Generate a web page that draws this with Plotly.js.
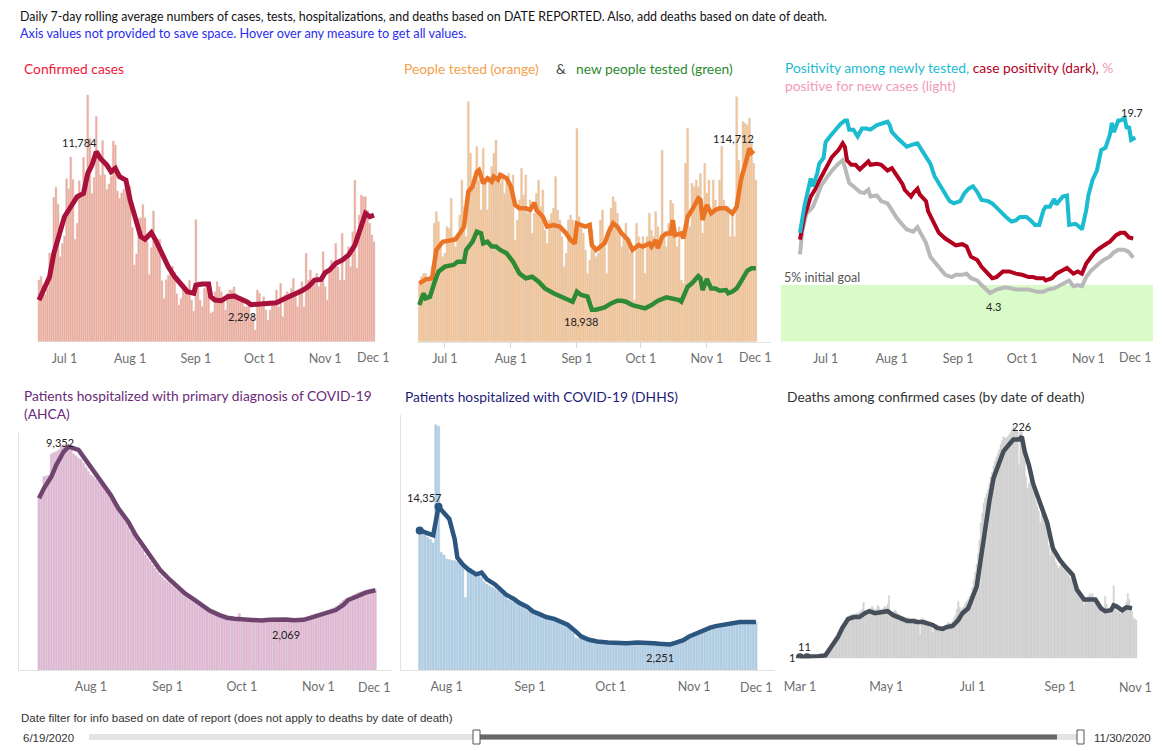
<!DOCTYPE html>
<html><head><meta charset="utf-8">
<script src="https://cdn.plot.ly/plotly-3.0.1.min.js"></script>
<style>html,body{margin:0;padding:0;background:#fff;overflow:hidden}#chart{width:1162px;height:751px}</style>
</head><body><div id="chart"></div>
<script>
// ---------------- DATA ----------------
// Panel 1: confirmed cases, daily bars from 2020-06-19
const casesStart = '2020-06-19';
const casesDaily = [3822,4049,3494,2926,3289,5508,5004,8942,9585,8530,5266,6093,
 6563,10109,9488,11458,10059,6336,7347,9989,8935,11433,10360,15300,12624,9194,10181,13965,11466,10328,12478,10347,9440,9785,10249,12444,12199,9344,8892,9230,9446,9956,9007,
 9642,7104,4752,5446,7650,7686,8502,7686,6229,4155,5831,8109,6236,6148,6352,3779,2678,3838,4115,4555,4684,4311,2974,2258,2673,3220,3269,3197,3815,2583,1885,
 7569,
 3720,2580,2170,3300,3620,3000,1760,1860,3100,3720,3410,3100,2580,1960,3000,3200,3200,3410,3000,2580,2790,2580,2170,2170,2480,1340,1760,720,3200,3000,2170,2790,1960,1340,1960,2380,2480,3200,2170,3620,1550,2900,3100,3000,3300,3930,3000,2170,3300,3720,2170,5480,3820,4440,3820,3620,4240,3410,3820,5580,3410,2580,4440,5060,4650,6100,4650,3820,6720,3820,5060,5890,4650,6820,10020,4550,7850,9100,8990,8990,8160,7340,6610,6200];
const casesAvgDates = ['06-19','06-21','06-24','06-26','06-28','07-01','07-04','07-07','07-10','07-12','07-14','07-16','07-18','07-21','07-23','07-25','07-27','07-30','08-01','08-04','08-06','08-08','08-11','08-13','08-16','08-19','08-22','08-25','08-28','08-31','09-01','09-04','09-07','09-08','09-10','09-13','09-16','09-19','09-22','09-25','09-27','10-01','10-05','10-07','10-09','10-12','10-15','10-18','10-21','10-24','10-27','10-30','11-01','11-03','11-06','11-09','11-12','11-15','11-17','11-20','11-22','11-24'];
const casesAvg = [2580,3200,4030,5480,6510,7750,8370,8990,9200,10440,10960,11784,11370,10960,10540,10750,10230,10020,8780,7230,6510,6350,6760,6300,5480,4650,4030,3620,3100,3000,3510,3580,3580,2790,2580,2540,2790,2830,2690,2480,2298,2340,2380,2380,2420,2620,2790,3000,3160,3410,3820,3860,4280,4440,4860,5060,5370,5990,6820,7960,7750,7850];

// Panel 2: people tested, daily bars from 2020-06-19
const testedStart = '2020-06-19';
const testedDaily = [34600,38500,40500,40500,36600,38500,44500,70200,77100,71200,
 56300,50400,52400,68200,67200,85000,62300,56300,62300,75100,
 95900,80100,62300,142300,111700,95900,91900,115700,95900,78100,
 114700,95900,78100,97900,103800,111700,119600,95900,93900,99800,
 88000,95900,99800,90000,98900,60300,72200,84000,102800,87000,
 98900,76100,84000,64300,76100,88000,95900,80100,90000,66200,
 58300,72200,76100,79100,97900,78100,72200,62300,44500,52400,
 72200,75100,72200,60300,126500,74100,70200,64300,54400,40500,
 48400,66200,56300,50400,52400,72200,78100,56300,40500,68200,
 79100,86000,83000,76100,68200,56300,64300,70200,60300,52400,
 56300,24700,70200,62300,56300,62300,40500,62300,76100,66200,
 62300,77100,68200,56300,113700,65200,56300,70200,84000,82000,
 66200,56300,68200,36600,34600,105800,126500,68200,93900,91900,
 95900,91900,99800,64300,105800,88000,95900,76100,95900,84000,
 79100,95900,115700,84000,79100,80100,62300,78100,62300,145300,
 107700,95900,130500,129500,128500,132500,117600,105800,95900];
const testedAvgDates = ['06-19','06-22','06-25','06-27','06-30','07-03','07-06','07-08','07-10','07-12','07-14','07-16','07-17','07-19','07-21','07-23','07-24','07-26','07-27','07-30','08-01','08-03','08-05','08-08','08-10','08-12','08-13','08-16','08-18','08-21','08-24','08-27','08-29','08-31','09-01','09-03','09-05','09-07','09-08','09-10','09-11','09-14','09-16','09-18','09-20','09-22','09-25','09-27','09-30','10-02','10-05','10-06','10-08','10-09','10-11','10-13','10-15','10-16','10-17','10-20','10-21','10-23','10-25','10-28','10-29','10-30','11-01','11-03','11-05','11-07','11-10','11-11','11-13','11-15','11-17','11-20','11-21','11-22','11-23'];
const testedAvg = [34600,36970,37560,54400,59300,60300,60700,64200,68200,89000,92000,100800,101800,93900,96900,94900,97900,95900,98900,96900,92000,81100,79100,79100,78100,82500,78100,74100,68200,69200,68200,64200,60300,58300,70200,69200,68200,69200,57300,54400,55400,58300,65200,70200,68200,64200,60300,54400,57300,56400,58300,56400,60300,55400,62300,64200,64200,72100,63200,64200,61300,74100,78100,85000,84000,72100,81100,76100,78100,79100,79100,78100,76100,80100,95900,109700,114712,112100,113300];
const newTestedAvgDates = ['06-19','06-21','06-22','06-24','06-26','06-28','07-01','07-05','07-07','07-10','07-11','07-14','07-16','07-18','07-19','07-21','07-23','07-25','07-27','07-30','08-02','08-05','08-08','08-11','08-14','08-17','08-21','08-24','08-27','08-30','09-01','09-03','09-06','09-08','09-10','09-14','09-17','09-20','09-22','09-24','09-27','09-30','10-03','10-06','10-09','10-13','10-16','10-19','10-20','10-23','10-25','10-28','10-29','10-30','11-01','11-03','11-05','11-07','11-10','11-11','11-13','11-15','11-17','11-20','11-22','11-24'];
const newTestedAvg = [21700,28700,25700,26700,34600,41500,44500,45500,47400,47400,54400,59300,65200,64200,58300,59300,56400,56400,54400,52400,47400,40500,37600,38500,35600,31600,28700,27100,25700,23700,29700,27700,26700,18938,19000,20400,22700,24300,24300,23700,21700,20800,19800,21700,24300,26300,25700,24700,23700,32600,34600,38900,37600,30600,37200,31600,31600,30200,30600,28700,29700,31600,35600,42100,43500,43500];

// Panel 3: positivity (%)
const goalPct = 5;
const posNewDates = ['06-19','06-21','06-24','06-25','06-27','06-28','06-30','07-01','07-03','07-06','07-08','07-10','07-11','07-12','07-14','07-16','07-18','07-20','07-22','07-25','07-27','07-30','07-31','08-01','08-04','08-06','08-08','08-11','08-13','08-15','08-17','08-19','08-21','08-23','08-26','08-28','08-30','09-02','09-04','09-06','09-08','09-10','09-12','09-15','09-17','09-19','09-22','09-24','09-26','09-28','09-30','10-03','10-05','10-07','10-09','10-11','10-12','10-14','10-16','10-17','10-20','10-22','10-23','10-26','10-28','10-29','10-31','11-01','11-03','11-05','11-07','11-09','11-11','11-12','11-13','11-15','11-16','11-18','11-19','11-20','11-21','11-23'];
const posNew = [9.6,11.9,14.4,13.7,14.8,15.7,16.2,17.6,18.1,18.8,19.2,19.5,19.5,18.7,18.7,18.1,18.8,18.8,18.7,19.1,19.2,19.4,19.1,18.5,17.9,17.5,17.2,17.4,17.5,16.9,16.3,15.7,14.6,14.0,13.1,12.4,12.2,12.4,13.1,13.5,13.7,13.2,12.5,12.4,12.2,11.8,11.3,10.9,10.6,10.7,11.0,11.0,10.7,10.3,10.3,11.6,11.9,11.9,12.6,12.1,12.8,12.9,10.3,10.4,10.1,9.9,11.6,12.9,14.3,15.1,16.9,17.1,18.2,19.3,18.5,19.5,19.5,19.7,18.8,19.0,17.8,18.0];
const posCaseDates = ['06-19','06-21','06-24','06-26','06-28','06-30','07-02','07-04','07-07','07-09','07-10','07-11','07-13','07-15','07-17','07-19','07-21','07-22','07-25','07-27','07-30','08-01','08-03','08-06','08-07','08-10','08-11','08-13','08-14','08-17','08-18','08-21','08-23','08-26','08-29','08-31','09-03','09-05','09-07','09-10','09-12','09-15','09-17','09-19','09-22','09-25','09-28','10-01','10-04','10-06','10-08','10-11','10-12','10-15','10-17','10-20','10-22','10-25','10-27','10-29','10-31','11-02','11-04','11-06','11-08','11-10','11-11','11-14','11-16','11-18','11-20','11-22'];
const posCase = [9.0,11.0,12.8,13.4,14.2,14.9,15.6,16.3,16.9,17.5,17.2,16.0,15.6,15.6,15.2,15.6,15.9,15.6,15.7,15.6,15.1,15.3,14.7,13.9,13.4,12.8,13.1,13.5,13.0,12.4,11.5,10.4,9.6,9.1,8.7,8.5,8.6,8.4,7.5,7.2,6.6,6.0,5.6,5.7,6.2,6.2,6.0,5.9,5.7,5.7,5.6,5.6,5.4,5.6,6.0,6.3,6.5,6.0,6.2,6.0,6.9,7.4,7.9,8.2,8.5,8.7,8.8,9.4,9.6,9.6,9.2,9.1];
const posNewCasesDates = ['06-19','06-20','06-22','06-25','06-27','06-29','07-02','07-04','07-07','07-09','07-10','07-12','07-14','07-17','07-19','07-21','07-22','07-25','07-27','07-30','08-01','08-03','08-06','08-08','08-11','08-13','08-15','08-17','08-19','08-22','08-24','08-26','08-29','08-31','09-03','09-05','09-07','09-10','09-12','09-14','09-16','09-19','09-21','09-23','09-26','09-28','10-01','10-04','10-06','10-08','10-11','10-13','10-16','10-18','10-20','10-23','10-25','10-27','10-29','10-31','11-02','11-04','11-06','11-08','11-11','11-13','11-15','11-18','11-20','11-22'];
const posNewCases = [7.7,9.7,11.3,11.9,12.8,13.8,14.6,15.1,15.7,16.0,15.4,14.0,13.7,13.2,13.1,13.4,12.8,12.9,12.4,12.2,11.6,11.0,10.3,9.9,9.7,10.1,9.4,8.7,7.5,6.8,6.3,5.9,5.7,5.9,5.9,6.0,5.6,5.4,5.0,4.7,4.3,4.6,4.7,4.8,4.7,4.6,4.6,4.6,4.5,4.4,4.4,4.6,4.7,4.9,5.1,5.4,4.9,5.0,4.9,5.7,6.2,6.6,6.9,7.2,7.5,7.9,8.1,8.1,7.9,7.4];

// Panel 4: AHCA hospitalizations, daily bars from 2020-07-11
const ahcaStart = '2020-07-11';
const ahcaDaily = [7195,7400,8100,8130,8170,9050,9110,9150,9220,9400,
 9430,9360,9290,9220,9050,8970,8870,8830,8660,8490,
 8310,8170,8100,7990,7890,7800,7680,7570,7330,7190,
 7050,6870,6730,6570,6400,6220,6010,5800,5700,5520,
 5310,5170,5030,4820,4680,4540,4400,4260,4120,3980,
 3880,3770,3700,3630,3520,3420,3350,3260,3170,3070,
 3000,2930,2860,2790,2720,2650,2600,2540,2490,2430,
 2370,2330,2290,2250,2220,2190,2180,2170,2150,2150,
 2210,2370,2180,2140,2110,2100,2080,2080,2070,2070,
 2080,2100,2110,2110,2110,2110,2100,2100,2080,2070,
 2050,2040,2010,2000,2000,2030,2070,2120,2180,2220,
 2260,2300,2350,2370,2400,2430,2470,2510,2560,2600,
 2650,2710,2820,2930,2990,3030,3070,3130,3190,3240,
 3270,3300,3320,3350,3370,3380,3380];
const ahcaAvgDates = ['07-11','07-13','07-16','07-18','07-21','07-23','07-27','07-30','08-02','08-06','08-09','08-12','08-16','08-19','08-23','08-26','08-29','09-02','09-05','09-08','09-12','09-15','09-18','09-22','09-25','09-28','10-02','10-05','10-09','10-12','10-15','10-19','10-22','10-24','10-26','10-29','11-01','11-05','11-08','11-11','11-13','11-17','11-20','11-24'];
const ahcaAvg = [7195,7610,8100,8590,9150,9352,9220,8800,8310,7820,7330,6780,6220,5660,5100,4610,4190,3770,3460,3210,2930,2720,2490,2300,2190,2150,2120,2080,2070,2100,2120,2110,2080,2069,2100,2190,2300,2400,2510,2720,2930,3100,3240,3340];

// Panel 5: DHHS hospitalizations, daily bars from 2020-07-22
const dhhsStart = '2020-07-22';
const dhhsDaily = [12180,12070,11890,11680,11480,11180,21560,21420,10350,10120,
 9760,9710,9620,9620,9530,9410,9320,6370,9120,8940,
 8730,8580,8350,8140,7760,7550,7400,7290,7170,6990,
 6810,6610,6460,6170,6080,6020,5930,5810,5630,5400,
 5250,5190,5100,4990,4900,4810,4660,4540,4450,4400,
 4310,4220,4130,4010,3920,3860,3810,3270,2830,2770,
 2740,2680,2630,2570,2510,2450,2420,2390,2390,2360,
 2360,2330,2330,2330,2330,2330,2360,2390,2390,2420,
 2450,2450,2450,2480,2450,2420,2390,2360,2330,2270,
 2210,2150,2180,2240,2330,2420,2510,2630,2740,2860,
 3040,3100,3160,3270,3510,3570,3630,3690,3720,3780,
 3840,3890,3950,4010,4070,4130,4160,4190,4220,4220,
 4250,4250,4250,4250,4250,4220];
const dhhsAvgDates = ['07-22','07-24','07-27','07-29','07-31','08-02','08-04','08-05','08-07','08-09','08-12','08-14','08-16','08-19','08-21','08-23','08-26','08-28','08-31','09-02','09-05','09-07','09-10','09-12','09-15','09-18','09-20','09-23','09-26','09-30','10-03','10-07','10-11','10-14','10-17','10-19','10-21','10-23','10-25','10-28','10-30','11-02','11-04','11-07','11-09','11-12','11-14','11-16','11-18','11-21','11-24'];
const dhhsAvg = [12270,12130,11840,14357,13870,13280,11510,9880,9290,8850,8410,8560,7970,7520,7080,6640,6250,5900,5550,5160,4870,4660,4490,4280,3980,3390,2950,2660,2510,2420,2360,2360,2420,2420,2360,2300,2270,2251,2390,2630,2920,3220,3510,3720,3860,4010,4100,4220,4220,4220,4220];

// Panel 6: deaths by date of death, daily bars from 2020-03-01
const deathsStart = '2020-03-01';
const deathsDaily = [1,0,0,1,1,0,1,1,2,1,
 2,1,3,2,3,4,5,5,6,8,
 10,12,15,17,19,21,24,27,30,32,
 34,36,38,42,43,44,44,45,44,45,
 46,46,47,48,50,57,49,48,49,50,
 51,53,51,49,50,54,52,50,49,51,
 53,52,55,64,48,46,47,49,48,46,
 45,44,43,43,42,41,42,41,40,39,
 40,41,40,39,38,24,40,41,39,39,
 38,37,37,36,26,33,34,35,33,33,
 32,31,32,32,33,37,36,36,38,41,
 44,50,58,52,49,51,53,56,58,60,
 63,66,72,80,88,96,107,120,138,148,
 158,163,168,172,178,185,190,196,201,205,
 209,213,218,222,226,225,224,226,228,230,
 233,236,234,233,231,197,232,230,215,202,
 185,173,178,185,182,179,170,160,155,150,
 138,147,155,148,141,128,115,105,110,114,
 104,98,95,92,94,99,97,94,92,87,
 85,82,80,78,75,73,70,66,65,63,
 60,54,58,60,63,66,64,66,62,57,
 57,54,49,51,52,51,63,55,49,48,
 46,50,74,52,49,47,50,46,48,53,
 53,57,66,60,51,48,41,40,39];
const deathsAvgDates = ['03-01','03-06','03-14','03-19','03-23','03-28','03-31','04-04','04-08','04-12','04-16','04-19','04-23','04-27','05-02','05-06','05-09','05-13','05-16','05-20','05-23','05-27','05-30','06-03','06-06','06-10','06-13','06-17','06-21','06-24','06-28','07-01','07-04','07-06','07-08','07-10','07-13','07-16','07-20','07-23','07-27','07-30','08-03','08-05','08-07','08-10','08-13','08-18','08-23','08-27','09-01','09-05','09-10','09-13','09-18','09-23','09-26','09-30','10-03','10-07','10-09','10-11','10-15','10-18','10-22'];
const deathsAvg = [1,1,2,3,12,22,31,40,42,42,46,48,46,47,48,44,42,40,38,38,37,37,36,34,31,30,32,33,39,46,51,61,73,92,112,138,160,184,199,211,218,223,223,226,211,197,178,158,138,112,100,93,85,70,60,60,60,51,48,49,54,53,49,52,51];

// Tick labels
const monthTicksReport = ['2020-07-01','2020-08-01','2020-09-01','2020-10-01','2020-11-01'];
const monthTicksHosp = ['2020-08-01','2020-09-01','2020-10-01','2020-11-01'];
const monthTicksDeaths = ['2020-03-01','2020-05-01','2020-07-01','2020-09-01'];

// ---------------- HELPERS ----------------
const W = 1162, H = 751, DAY = 86400000;
const FONT = 'Lato, "Noto Sans", sans-serif';
function seq(start, n){ const t0 = Date.parse(start+'T00:00:00Z'); const out=[]; for(let i=0;i<n;i++){ out.push(new Date(t0+i*DAY).toISOString().slice(0,10)); } return out; }
function md(arr){ return arr.map(d => '2020-'+d); }
function rng(anchor, anchorPx, ppd, p0, p1){ const a = Date.parse(anchor+'T00:00:00Z'); return [a+(p0-anchorPx)/ppd*DAY, a+(p1-anchorPx)/ppd*DAY]; }
const px = x => x/W, py = y => 1 - y/H;

function xax(dom, range, tickvals, extra){
  return Object.assign({domain:[px(dom[0]),px(dom[1])], type:'date', range, tickvals, tickformat:'%b %-d',
    showgrid:false, zeroline:false, showline:false, ticks:'outside', ticklen:5, tickcolor:'rgba(0,0,0,0)',
    tickfont:{family:FONT,size:12.5,color:'#6e6e6e'}, fixedrange:true}, extra||{});
}
function yax(top, bottom, max, extra){
  return Object.assign({domain:[py(bottom), py(top)], range:[0,max], showgrid:false, zeroline:false,
    showticklabels:false, ticks:'', showline:false, fixedrange:true}, extra||{});
}
function bars(start, vals, xa, ya, color){
  return {type:'bar', x:seq(start, vals.length), y:vals, xaxis:xa, yaxis:ya, marker:{color, line:{color:'#cdcdcd', width:0.45}}, hoverinfo:'skip'};
}
function line(dates, vals, xa, ya, color, w){
  return {type:'scatter', mode:'lines', x:md(dates), y:vals, xaxis:xa, yaxis:ya, line:{color, width:w||4, shape:'linear'}, hoverinfo:'skip'};
}

const traces = [
  bars(casesStart, casesDaily, 'x', 'y', '#f9a592'),
  line(casesAvgDates, casesAvg, 'x', 'y', '#a8113c', 5),
  bars(testedStart, testedDaily, 'x2', 'y2', '#fdc186'),
  line(testedAvgDates, testedAvg, 'x2', 'y2', '#ea7424', 4.5),
  line(newTestedAvgDates, newTestedAvg, 'x2', 'y2', '#2f8a36', 4.5),
  line(posNewCasesDates, posNewCases, 'x3', 'y3', '#b9b9b9', 4),
  line(posCaseDates, posCase, 'x3', 'y3', '#b3001e', 4),
  line(posNewDates, posNew, 'x3', 'y3', '#1bbccf', 4),
  bars(ahcaStart, ahcaDaily, 'x4', 'y4', '#e6b3d6'),
  line(ahcaAvgDates, ahcaAvg, 'x4', 'y4', '#6f4570', 4.5),
  bars(dhhsStart, dhhsDaily, 'x5', 'y5', '#a9cfec'),
  line(dhhsAvgDates, dhhsAvg, 'x5', 'y5', '#2b5680', 4.5),
  {type:'scatter', mode:'markers', x:md([dhhsAvgDates[0], dhhsAvgDates[3]]), y:[dhhsAvg[0], dhhsAvg[3]], xaxis:'x5', yaxis:'y5', marker:{color:'#2b5680', size:8}, hoverinfo:'skip'},
  bars(deathsStart, deathsDaily, 'x6', 'y6', '#d2d2d2'),
  line(deathsAvgDates, deathsAvg, 'x6', 'y6', '#464e5a', 4.5),
  {type:'scatter', mode:'markers', x:md([deathsAvgDates[0], deathsAvgDates[1]]), y:[deathsAvg[0], deathsAvg[1]], xaxis:'x6', yaxis:'y6', marker:{color:'#464e5a', size:8}, hoverinfo:'skip'}
];

const baseLine = {showline:true, linecolor:'#e2e2e2', linewidth:1};
const layout = {
  width:W, height:H, margin:{l:0,r:0,t:0,b:0}, showlegend:false, paper_bgcolor:'#fff', plot_bgcolor:'rgba(0,0,0,0)',
  bargap:0.1, hovermode:false, font:{family:FONT},
  xaxis:  xax([36,392], rng('2020-06-19', 39, 2.12, 36, 392), monthTicksReport),
  yaxis:  yax(90, 341.7, 15610, {anchor:'x'}),
  xaxis2: xax([417,771], rng('2020-06-19', 419.3, 2.13, 417, 771), monthTicksReport, Object.assign({anchor:'y2', tickcolor:'#d6d6d6'}, baseLine)),
  yaxis2: yax(90, 341.7, 149260, {anchor:'x2'}),
  xaxis3: xax([781,1154], rng('2020-06-19', 800, 2.136, 781, 1154), monthTicksReport, {anchor:'y3'}),
  yaxis3: yax(90, 341.7, 22.2, {anchor:'x3'}),
  xaxis4: xax([19,392], rng('2020-07-11', 39, 2.473, 19, 392), monthTicksHosp, Object.assign({anchor:'y4'}, baseLine)),
  yaxis4: yax(433, 670, 9926, Object.assign({anchor:'x4'}, baseLine)),
  xaxis5: xax([401,775], rng('2020-07-22', 419.7, 2.69, 401, 775), monthTicksHosp, Object.assign({anchor:'y5'}, baseLine)),
  yaxis5: yax(415, 670, 22420, Object.assign({anchor:'x5'}, baseLine)),
  xaxis6: xax([788,1150], rng('2020-03-01', 800, 1.413, 788, 1150), monthTicksDeaths, {anchor:'y6', ticklen:17}),
  yaxis6: yax(420, 658.3, 243, {anchor:'x6'}),
  shapes: [
    {type:'rect', xref:'paper', yref:'y3', x0:px(781), x1:px(1153), y0:0, y1:goalPct, fillcolor:'#d8fbc8', line:{width:0}, layer:'below'},
    {type:'line', xref:'paper', yref:'paper', x0:px(89), x1:px(1083), y0:py(737), y1:py(737), line:{color:'#e4e4e4', width:6}},
    {type:'line', xref:'paper', yref:'paper', x0:px(477), x1:px(1057), y0:py(737), y1:py(737), line:{color:'#676767', width:5}},
    {type:'rect', xref:'paper', yref:'paper', x0:px(473), x1:px(480), y0:py(744), y1:py(730), fillcolor:'#fff', line:{color:'#555', width:1}},
    {type:'rect', xref:'paper', yref:'paper', x0:px(1077), x1:px(1084), y0:py(744), y1:py(730), fillcolor:'#fff', line:{color:'#555', width:1}}
  ],
  annotations: []
};

function ann(text, x, y, opts){
  layout.annotations.push(Object.assign({text, x:px(x), y:py(y), xref:'paper', yref:'paper', showarrow:false, xanchor:'left', yanchor:'middle', align:'left', font:{family:FONT, size:12, color:'#222'}}, opts||{}));
}
const TS = 13.8;
ann('Daily 7-day rolling average numbers of cases, tests, hospitalizations, and deaths based on DATE REPORTED. Also, add deaths based on date of death.', 18, 16, {font:{family:FONT,size:12.4,color:'#111'}});
ann('Axis values not provided to save space. Hover over any measure to get all values.', 18, 33, {font:{family:FONT,size:12.7,color:'#2b2bf0'}});
ann('Confirmed cases', 22, 68, {font:{family:FONT,size:TS,color:'#f2163c'}});
ann('People tested (orange)', 402, 68, {font:{family:FONT,size:TS,color:'#f4a04c'}});
ann('&amp;', 554, 68, {font:{family:FONT,size:TS,color:'#444'}});
ann('new people tested (green)', 574, 68, {font:{family:FONT,size:TS,color:'#2b8a2f'}});
ann('<span style="color:#1bbccf">Positivity among newly tested,</span> <span style="color:#b3001e">case positivity (dark),</span> <span style="color:#f29ab8">%</span><br><span style="color:#f29ab8">positive for new cases (light)</span>', 783, 76, {font:{family:FONT,size:TS,color:'#1bbccf'}});
ann('Patients hospitalized with primary diagnosis of COVID-19<br>(AHCA)', 22, 404, {font:{family:FONT,size:TS,color:'#6a2a7a'}});
ann('Patients hospitalized with COVID-19 (DHHS)', 403, 396, {font:{family:FONT,size:TS,color:'#1c1c78'}});
ann('Deaths among confirmed cases (by date of death)', 785, 396, {font:{family:FONT,size:TS,color:'#333'}});
ann('5% initial goal', 782, 277, {font:{family:FONT,size:12.5,color:'#555'}});
// value labels
const vl = (t,x,y) => ann(t, x, y, {xanchor:'center', font:{family:FONT,size:11,color:'#222'}});
vl('11,784', 80, 143); vl('2,298', 242, 317); vl('114,712', 733, 139); vl('18,938', 581, 322);
vl('19.7', 1132, 113); vl('4.3', 993, 306); vl('9,352', 60, 442); vl('2,069', 286, 634);
vl('14,357', 424, 497); vl('2,251', 660, 657); vl('226', 1022, 426); vl('11', 804, 646); vl('1', 792, 657);
// end-of-axis labels (shifted inward as in the original)
const tl = (t,x,y) => ann(t, x, y, {xanchor:'center', font:{family:FONT,size:12.5,color:'#6e6e6e'}});
tl('Dec 1', 373, 358); tl('Dec 1', 755, 358); tl('Dec 1', 1135, 358);
tl('Dec 1', 374, 687); tl('Dec 1', 756, 687); tl('Nov 1', 1135, 687);
// date filter
const NAR = '"Liberation Sans Narrow", "Arial Narrow", "Liberation Sans", sans-serif';
ann('Date filter for info based on date of report (does not apply to deaths by date of death)', 19, 718, {font:{family:NAR,size:11.5,color:'#333'}});
ann('6/19/2020', 21, 738, {font:{family:NAR,size:11.5,color:'#333'}});
ann('11/30/2020', 1092, 738, {font:{family:NAR,size:11.5,color:'#333'}});

Plotly.newPlot('chart', traces, layout, {displayModeBar:false, staticPlot:true});
</script></body></html>
